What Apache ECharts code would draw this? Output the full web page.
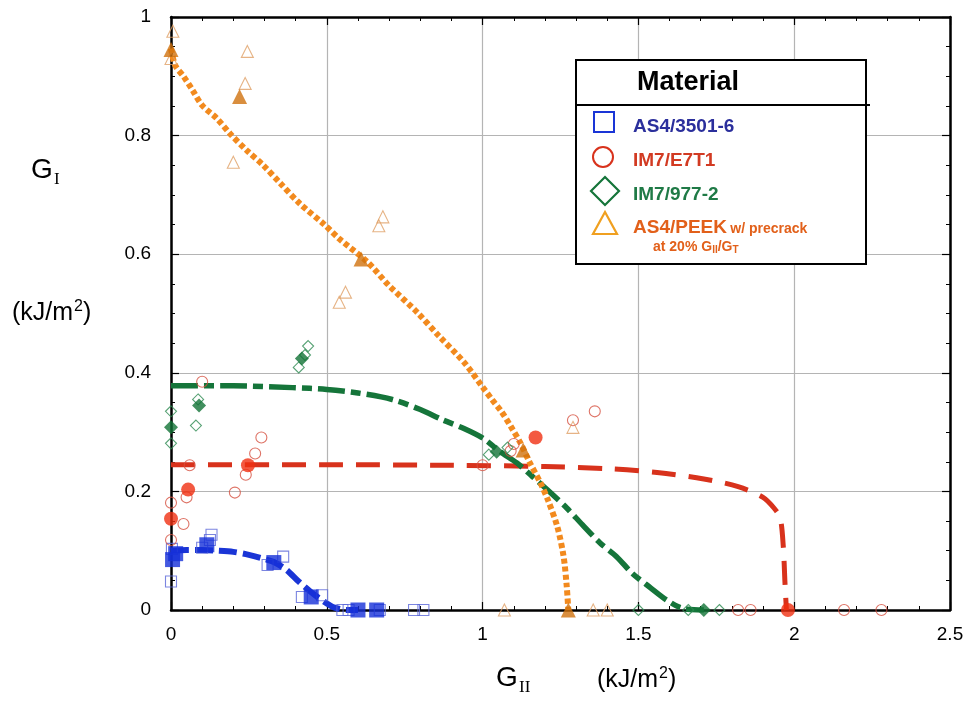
<!DOCTYPE html>
<html>
<head>
<meta charset="utf-8">
<script src="https://cdn.jsdelivr.net/npm/echarts@6/dist/echarts.min.js"></script>
<style>html,body{margin:0;padding:0;background:#fff}#c{width:969px;height:704px}</style>
</head>
<body>
<div id="c"></div>
<script>
// ---- data (G_II, G_I) in kJ/m^2 ----
const xTicks = ['0', '0.5', '1', '1.5', '2', '2.5'];
const yTicks = ['0', '0.2', '0.4', '0.6', '0.8', '1'];
const legendNames = ['AS4/3501-6', 'IM7/E7T1', 'IM7/977-2', 'AS4/PEEK'];

const as4_3501_fit = [[0,0.1],[0.05,0.101],[0.1,0.101],[0.15,0.1],[0.2,0.098],[0.25,0.093],[0.3,0.086],[0.33,0.081],[0.37,0.068],[0.41,0.048],[0.45,0.03],[0.47,0.022],[0.5,0.011],[0.52,0.005],[0.565,0],[0.6,0]];
const as4_3501_mean = [[0.005,0.085],[0.015,0.095],[0.115,0.11],[0.33,0.08],[0.45,0.022],[0.6,0],[0.66,0]];
const as4_3501_test = [[0,0.048],[0.003,0.103],[0.13,0.127],[0.125,0.118],[0.1,0.105],[0.36,0.09],[0.31,0.076],[0.42,0.022],[0.485,0.025],[0.55,0],[0.57,0],[0.67,0],[0.78,0],[0.81,0]];

const im7_e7t1_fit = [[0,0.245],[0.5,0.245],[0.9,0.244],[1.2,0.242],[1.41,0.238],[1.56,0.232],[1.71,0.221],[1.82,0.208],[1.9,0.19],[1.935,0.172],[1.955,0.155],[1.965,0.107],[1.97,0.05],[1.975,0]];
const im7_e7t1_mean = [[0,0.154],[0.055,0.203],[0.247,0.244],[1.17,0.291],[1.98,0]];
const im7_e7t1_test = [[0,0.181],[0,0.118],[0.04,0.145],[0.05,0.19],[0.06,0.244],[0.205,0.198],[0.24,0.228],[0.27,0.264],[0.29,0.291],[0.1,0.385],[1.0,0.244],[1.09,0.268],[1.1,0.28],[1.29,0.32],[1.36,0.335],[1.82,0],[1.86,0],[2.16,0],[2.28,0]];

const im7_977_fit = [[0,0.378],[0.2,0.378],[0.39,0.375],[0.5,0.372],[0.6,0.366],[0.71,0.355],[0.8,0.338],[0.87,0.321],[0.94,0.306],[1.0,0.29],[1.056,0.267],[1.11,0.248],[1.16,0.225],[1.22,0.197],[1.27,0.172],[1.32,0.144],[1.377,0.113],[1.43,0.09],[1.48,0.062],[1.54,0.037],[1.59,0.017],[1.64,0.003],[1.71,0]];
const im7_977_mean = [[0,0.308],[0.09,0.345],[0.42,0.424],[1.045,0.267],[1.71,0]];
const im7_977_test = [[0,0.335],[0,0.281],[0.08,0.311],[0.087,0.355],[0.41,0.409],[0.44,0.445],[0.43,0.43],[1.02,0.262],[1.08,0.274],[1.5,0],[1.66,0],[1.76,0]];

const peek_fit = [[0,0.947],[0.013,0.919],[0.04,0.9],[0.07,0.876],[0.1,0.851],[0.147,0.829],[0.19,0.803],[0.243,0.775],[0.296,0.75],[0.35,0.72],[0.414,0.685],[0.49,0.651],[0.54,0.626],[0.63,0.587],[0.7,0.547],[0.79,0.502],[0.86,0.462],[0.94,0.418],[1.0,0.376],[1.03,0.355],[1.06,0.335],[1.09,0.31],[1.12,0.283],[1.15,0.25],[1.185,0.215],[1.21,0.185],[1.24,0.14],[1.26,0.09],[1.27,0.04],[1.275,0]];
const peek_mean = [[0,0.945],[0.22,0.866],[0.61,0.592],[1.13,0.27],[1.275,0]];
const peek_test = [[0.006,0.976],[0,0.93],[0.245,0.942],[0.238,0.888],[0.2,0.755],[0.68,0.663],[0.667,0.648],[0.56,0.536],[0.54,0.519],[1.29,0.308],[1.07,0],[1.355,0],[1.4,0]];

// ---- chart ----
const FONT = 'Liberation Sans, Arial, Helvetica, sans-serif';
const SERIF = '"Liberation Serif", "DejaVu Serif", serif';
const chart = echarts.init(document.getElementById('c'), null, {renderer: 'canvas'});

function fitLine(data, color, width, dash) {
  return {type: 'line', data: data, symbol: 'none', smooth: 0.3, z: 2, silent: true,
    lineStyle: {color: color, width: width, type: dash, cap: 'butt'}};
}
function openPts(data, symbol, size, color) {
  return {type: 'scatter', data: data, symbol: symbol, symbolSize: size, z: 3, silent: true,
    itemStyle: {color: 'rgba(255,255,255,0)', borderColor: color, borderWidth: 1.1}};
}
function fillPts(data, symbol, size, color) {
  return {type: 'scatter', data: data, symbol: symbol, symbolSize: size, z: 4, silent: true,
    itemStyle: {color: color}};
}

const axisCommon = {
  type: 'value', min: 0,
  axisLine: {show: true, onZero: false, lineStyle: {color: '#000', width: 2.5}},
  axisTick: {show: true, inside: true, length: 8, lineStyle: {color: '#000', width: 1.2}},
  minorTick: {show: true, length: 4, lineStyle: {color: '#000', width: 1}},
};

const option = {
  animation: false,
  backgroundColor: '#fff',
  grid: {left: 171, right: 19, top: 17, bottom: 94, containLabel: false},
  xAxis: [
    Object.assign({}, axisCommon, {
      max: 2.5, interval: 0.5, position: 'bottom',
      minorTick: Object.assign({}, axisCommon.minorTick, {splitNumber: 5}),
      axisLabel: {color: '#000', fontFamily: FONT, fontSize: 19, margin: 15,
        formatter: (v) => xTicks[Math.round(v / 0.5)]},
      splitLine: {show: true, lineStyle: {color: '#b4b4b4', width: 1.2}}
    }),
    Object.assign({}, axisCommon, {
      max: 2.5, interval: 0.5, position: 'top',
      minorTick: Object.assign({}, axisCommon.minorTick, {splitNumber: 5}),
      axisLabel: {show: false}, splitLine: {show: false}
    })
  ],
  yAxis: [
    Object.assign({}, axisCommon, {
      max: 1, interval: 0.2, position: 'left',
      minorTick: Object.assign({}, axisCommon.minorTick, {splitNumber: 4}),
      axisLabel: {color: '#000', fontFamily: FONT, fontSize: 19, margin: 20,
        formatter: (v) => yTicks[Math.round(v / 0.2)]},
      splitLine: {show: true, lineStyle: {color: '#b4b4b4', width: 1.2}}
    }),
    Object.assign({}, axisCommon, {
      max: 1, interval: 0.2, position: 'right',
      minorTick: Object.assign({}, axisCommon.minorTick, {splitNumber: 4}),
      axisLabel: {show: false}, splitLine: {show: false}
    })
  ],
  series: [
    fitLine(im7_e7t1_fit, '#d8321c', 5, [24, 13]),
    fitLine(im7_977_fit, '#15753a', 5.5, [27, 6, 10, 6]),
    fitLine(peek_fit, '#f28a1e', 6, [5, 3]),
    fitLine(as4_3501_fit, '#1a35d6', 6, [18, 6]),
    openPts(as4_3501_test, 'rect', 11, '#5a66d8'),
    openPts(im7_e7t1_test, 'circle', 11, '#d65040'),
    openPts(im7_977_test, 'diamond', 11, '#2c8a50'),
    openPts(peek_test, 'triangle', 12, '#e0a066'),
    fillPts(as4_3501_mean, 'rect', 15, '#1530d8'),
    fillPts(im7_e7t1_mean, 'circle', 14, '#f03012'),
    fillPts(im7_977_mean, 'diamond', 14, '#127336'),
    fillPts(peek_mean, 'triangle', 15, '#d0720e')
  ],
  graphic: [
    // axis titles
    {type: 'text', left: 31, top: 156, style: {text: 'G', font: '28px ' + FONT, fill: '#000'}},
    {type: 'text', left: 54, top: 171, style: {text: 'I', font: '17px ' + SERIF, fill: '#000'}},
    {type: 'text', x: 12, y: 313, style: {
      text: '{a|(kJ/m}{s|2}{a|)}', verticalAlign: 'middle',
      rich: {a: {font: '25px ' + FONT, fill: '#000'}, s: {font: '16px ' + FONT, fill: '#000', padding: [0, 0, 12, 1]}}}},
    {type: 'text', left: 496, top: 664, style: {text: 'G', font: '28px ' + FONT, fill: '#000'}},
    {type: 'text', left: 519, top: 679, style: {text: 'II', font: '17px ' + SERIF, fill: '#000'}},
    {type: 'text', x: 597, y: 680, style: {
      text: '{a|(kJ/m}{s|2}{a|)}', verticalAlign: 'middle',
      rich: {a: {font: '25px ' + FONT, fill: '#000'}, s: {font: '16px ' + FONT, fill: '#000', padding: [0, 0, 12, 1]}}}},
    // legend box
    {type: 'rect', shape: {x: 576, y: 60, width: 290, height: 204}, z: 10,
      style: {fill: '#fff', stroke: '#000', lineWidth: 2}},
    {type: 'line', shape: {x1: 576, y1: 105, x2: 870, y2: 105}, z: 11, style: {stroke: '#000', lineWidth: 2}},
    {type: 'text', x: 688, y: 83, z: 11, style: {text: 'Material', font: 'bold 27px ' + FONT, fill: '#000', align: 'center', verticalAlign: 'middle'}},
    {type: 'rect', shape: {x: 594, y: 112, width: 20, height: 20}, z: 11, style: {fill: 'none', stroke: '#1a35d6', lineWidth: 2}},
    {type: 'circle', shape: {cx: 603, cy: 157, r: 10}, z: 11, style: {fill: 'none', stroke: '#d8321c', lineWidth: 2}},
    {type: 'polygon', shape: {points: [[605, 177], [619, 191], [605, 205], [591, 191]]}, z: 11, style: {fill: 'none', stroke: '#15753a', lineWidth: 2.2}},
    {type: 'polygon', shape: {points: [[605, 212], [617, 234], [593, 234]]}, z: 11, style: {fill: 'none', stroke: '#f0a020', lineWidth: 2.2}},
    {type: 'text', x: 633, y: 127, z: 11, style: {text: legendNames[0], font: 'bold 19px ' + FONT, fill: '#2b2f9c', verticalAlign: 'middle'}},
    {type: 'text', x: 633, y: 161, z: 11, style: {text: legendNames[1], font: 'bold 19px ' + FONT, fill: '#d23a22', verticalAlign: 'middle'}},
    {type: 'text', x: 633, y: 195, z: 11, style: {text: legendNames[2], font: 'bold 19px ' + FONT, fill: '#1f7a46', verticalAlign: 'middle'}},
    {type: 'text', x: 633, y: 228, z: 11, style: {
      text: '{a|' + legendNames[3] + '} {b|w/ precrack}',
      verticalAlign: 'middle', fill: '#e2601a',
      rich: {a: {font: 'bold 19px ' + FONT, fill: '#e2601a'}, b: {font: 'bold 14px ' + FONT, fill: '#e2601a', padding: [3, 0, 0, 0]}}}},
    {type: 'text', x: 653, y: 247, z: 11, style: {
      text: '{b|at 20% G}{s|II}{b|/G}{s|T}', verticalAlign: 'middle',
      rich: {b: {font: 'bold 14px ' + FONT, fill: '#e2601a'}, s: {font: 'bold 10px ' + FONT, fill: '#e2601a', padding: [7, 0, 0, 0]}}}}
  ]
};
chart.setOption(option);
</script>
</body>
</html>
